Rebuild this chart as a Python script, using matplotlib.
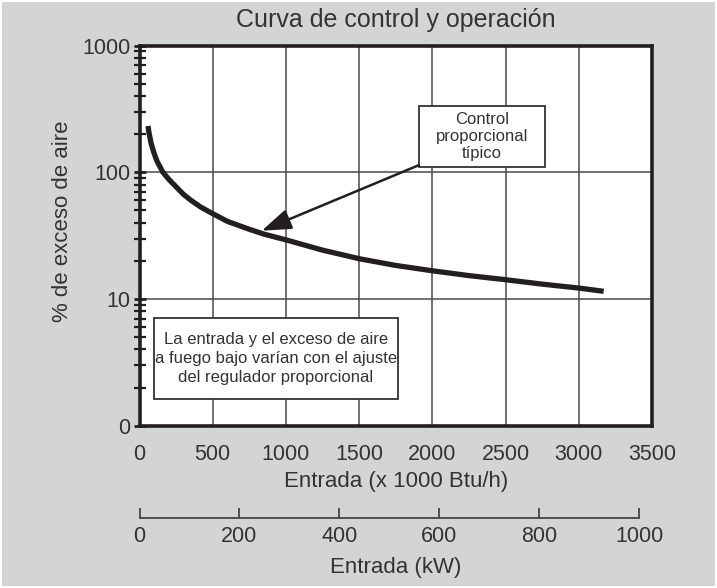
"""Curva de control y operación: % de exceso de aire vs. entrada."""

import matplotlib
matplotlib.use("Agg")
import matplotlib.pyplot as plt
from matplotlib.patches import Rectangle
from matplotlib.ticker import LogLocator, NullFormatter

plt.rcParams["font.family"] = ["Liberation Sans", "DejaVu Sans"]

# datos (x 1000 Btu/h, % exceso de aire)
entrada = [58, 65, 80, 99, 120, 160, 200, 249, 300, 352, 420, 495, 600, 750,
           850, 1000, 1250, 1500, 1750, 2000, 2250, 2500, 2750, 3000, 3170]
exceso = [232, 205, 168, 142, 122, 100, 88, 77, 67, 60, 53, 47.5, 41, 35.5,
          32.5, 29.3, 24.3, 20.8, 18.4, 16.7, 15.3, 14.2, 13.1, 12.2, 11.5]

x_ticks = [0, 500, 1000, 1500, 2000, 2500, 3000, 3500]
y_ticks = [1, 10, 100, 1000]
y_labels = ["0", "10", "100", "1000"]
kw_ticks = [0, 200, 400, 600, 800, 1000]
KBTU_PER_KW = 3.412

INK = "#231f20"
TXT = "#333333"
GRID = "#4a4a4a"
BG = "#d3d4d6"

W, H = 717, 588
fig = plt.figure(figsize=(W / 100, H / 100), dpi=100, facecolor="white")
fig.patches.append(Rectangle((2 / W, 2 / H), 1 - 4 / W, 1 - 4 / H,
                             transform=fig.transFigure, fc=BG, ec="none", zorder=-10))

ax = fig.add_axes([139.5 / W, 1 - 425.7 / H, 512.5 / W, 380.1 / H])
ax.set_facecolor("white")
ax.set_yscale("log")
ax.set_xlim(0, 3500)
ax.set_ylim(1, 1000)

ax.set_xticks(x_ticks)
ax.set_yticks(y_ticks, labels=y_labels)
ax.yaxis.set_minor_locator(LogLocator(base=10, subs=range(2, 10)))
ax.yaxis.set_minor_formatter(NullFormatter())
ax.tick_params(axis="x", length=0, pad=13, labelsize=15.5, labelcolor=TXT)
ax.tick_params(axis="y", which="major", direction="inout", length=9, width=2,
               color=INK, pad=2, labelsize=15.5, labelcolor=TXT)
ax.tick_params(axis="y", which="minor", direction="inout", length=8, width=1.6,
               color=INK)
for s in ax.spines.values():
    s.set_linewidth(2.6)
    s.set_color(INK)

ax.grid(True, which="major", color=GRID, lw=1.1)
ax.set_axisbelow(True)

ax.plot(entrada, exceso, color=INK, lw=3.8, solid_capstyle="butt",
        solid_joinstyle="round", zorder=3)

# recuadro "Control proporcional típico" y flecha
ax.add_patch(Rectangle((1909, 110), 2770 - 1909, 334 - 110, fc="white",
                       ec="#333333", lw=1.3, zorder=4))
ax.text(2339, 192, "Control\nproporcional\ntípico", ha="center", va="center",
        fontsize=12, color=TXT, linespacing=1.15, zorder=5)
ax.annotate("", xy=(835, 34.6), xytext=(1909, 114),
            arrowprops=dict(arrowstyle="-|>,head_length=1.0,head_width=0.35",
                            mutation_scale=18, lw=1.8, color=INK,
                            shrinkA=0, shrinkB=0), zorder=4)

# recuadro inferior
ax.add_patch(Rectangle((99, 1.63), 1766 - 99, 7.08 - 1.63, fc="white",
                       ec="#333333", lw=1.3, zorder=4))
ax.text(932, 3.39, "La entrada y el exceso de aire\na fuego bajo varían con el ajuste\n"
        "del regulador proporcional", ha="center", va="center", fontsize=12,
        color=TXT, linespacing=1.3, zorder=5)

# eje secundario en kW
sec = ax.secondary_xaxis(-0.243, functions=(lambda x: x / KBTU_PER_KW,
                                             lambda k: k * KBTU_PER_KW))
sec.set_xticks(kw_ticks)
sec.spines["bottom"].set_bounds(0, 1000)
sec.spines["bottom"].set_color("#444444")
sec.spines["bottom"].set_linewidth(1.3)
sec.tick_params(direction="in", length=7, width=1.3, color="#444444", pad=6,
                labelsize=15.5, labelcolor=TXT)

fig.text(396 / W, 1 - 20 / H, "Curva de control y operación", ha="center",
         va="center", fontsize=18, color=TXT)
fig.text(396 / W, 1 - 481 / H, "Entrada (x 1000 Btu/h)", ha="center",
         va="center", fontsize=16, color=TXT)
fig.text(396 / W, 1 - 568 / H, "Entrada (kW)", ha="center", va="center",
         fontsize=16, color=TXT)
fig.text(63 / W, 1 - 221 / H, "% de exceso de aire", ha="center", va="center",
         rotation=90, fontsize=16, color=TXT)

fig.savefig("out.png", dpi=100, facecolor="white")
